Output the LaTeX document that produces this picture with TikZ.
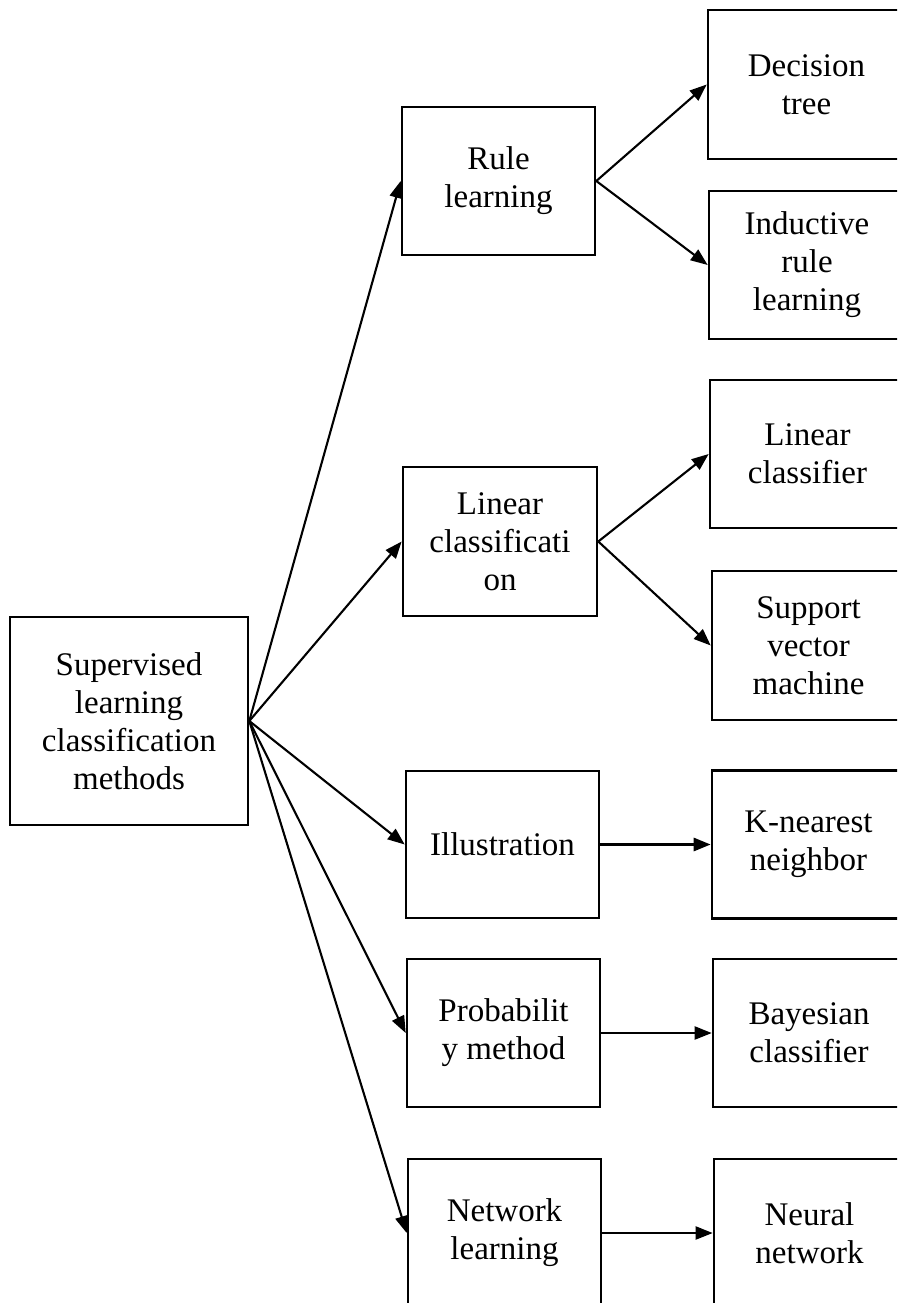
\documentclass[tikz,border=0pt]{standalone}
\usepackage{fontspec}
\setmainfont{Liberation Serif}
\usetikzlibrary{arrows.meta}
\begin{document}
\begin{tikzpicture}[x=1pt,y=-1pt,
  box/.style={draw=black,line width=2.6pt,inner sep=0pt,align=center,
    font=\fontsize{33}{38}\selectfont,minimum width=#1},
  box/.default=193pt,
  link/.style={line width=2.1pt,-{Triangle[length=17pt,width=13pt]}}]
\useasboundingbox (0,0) rectangle (897,1303);
\clip (0,0) rectangle (897,1303);

% root
\node[box=238pt,minimum height=208pt] (root) at (129,721)
  {Supervised\\learning\\classification\\methods};

% method families
\node[box,minimum height=148pt] (rule) at (498.5,181) {Rule\\learning};
\node[box=194pt,minimum height=149pt] (linc) at (500,541.5) {Linear\\classificati\\on};
\node[box,minimum height=147pt] (illu) at (502.5,844.5) {Illustration};
\node[box,minimum height=148pt] (prob) at (503.5,1033) {Probabilit\\y method};
\node[box,minimum height=148pt] (netl) at (504.5,1233) {Network\\learning};

% concrete methods
\node[box=197pt,minimum height=149pt] (dtree) at (806.5,84.5) {Decision\\tree};
\node[box=196pt,minimum height=148pt] (induc) at (807,265) {Inductive\\rule\\learning};
\node[box=195pt,minimum height=148pt] (lclf) at (807.5,454) {Linear\\classifier};
\node[box=193pt,minimum height=149pt] (svm) at (808.5,645.5) {Support\\vector\\machine};
\node[box=193pt,minimum height=148pt] (knn) at (808.5,844.5) {K-nearest\\neighbor};
\node[box=192pt,minimum height=148pt] (bayes) at (809,1033) {Bayesian\\classifier};
\node[box=191pt,minimum height=148pt] (neur) at (809.5,1233) {Neural\\network};

% connectors
\foreach \t in {rule,linc,illu,prob,netl}
  \draw[link] (root.east) -- (\t.west);
\draw[link] (rule.east) -- (dtree.west);
\draw[link] (rule.east) -- (induc.west);
\draw[link] (linc.east) -- (lclf.west);
\draw[link] (linc.east) -- (svm.west);
\draw[link,line width=2.8pt] (illu.east) -- (knn.west);
\draw[link] (prob.east) -- (bayes.west);
\draw[link] (netl.east) -- (neur.west);
\end{tikzpicture}
\end{document}
